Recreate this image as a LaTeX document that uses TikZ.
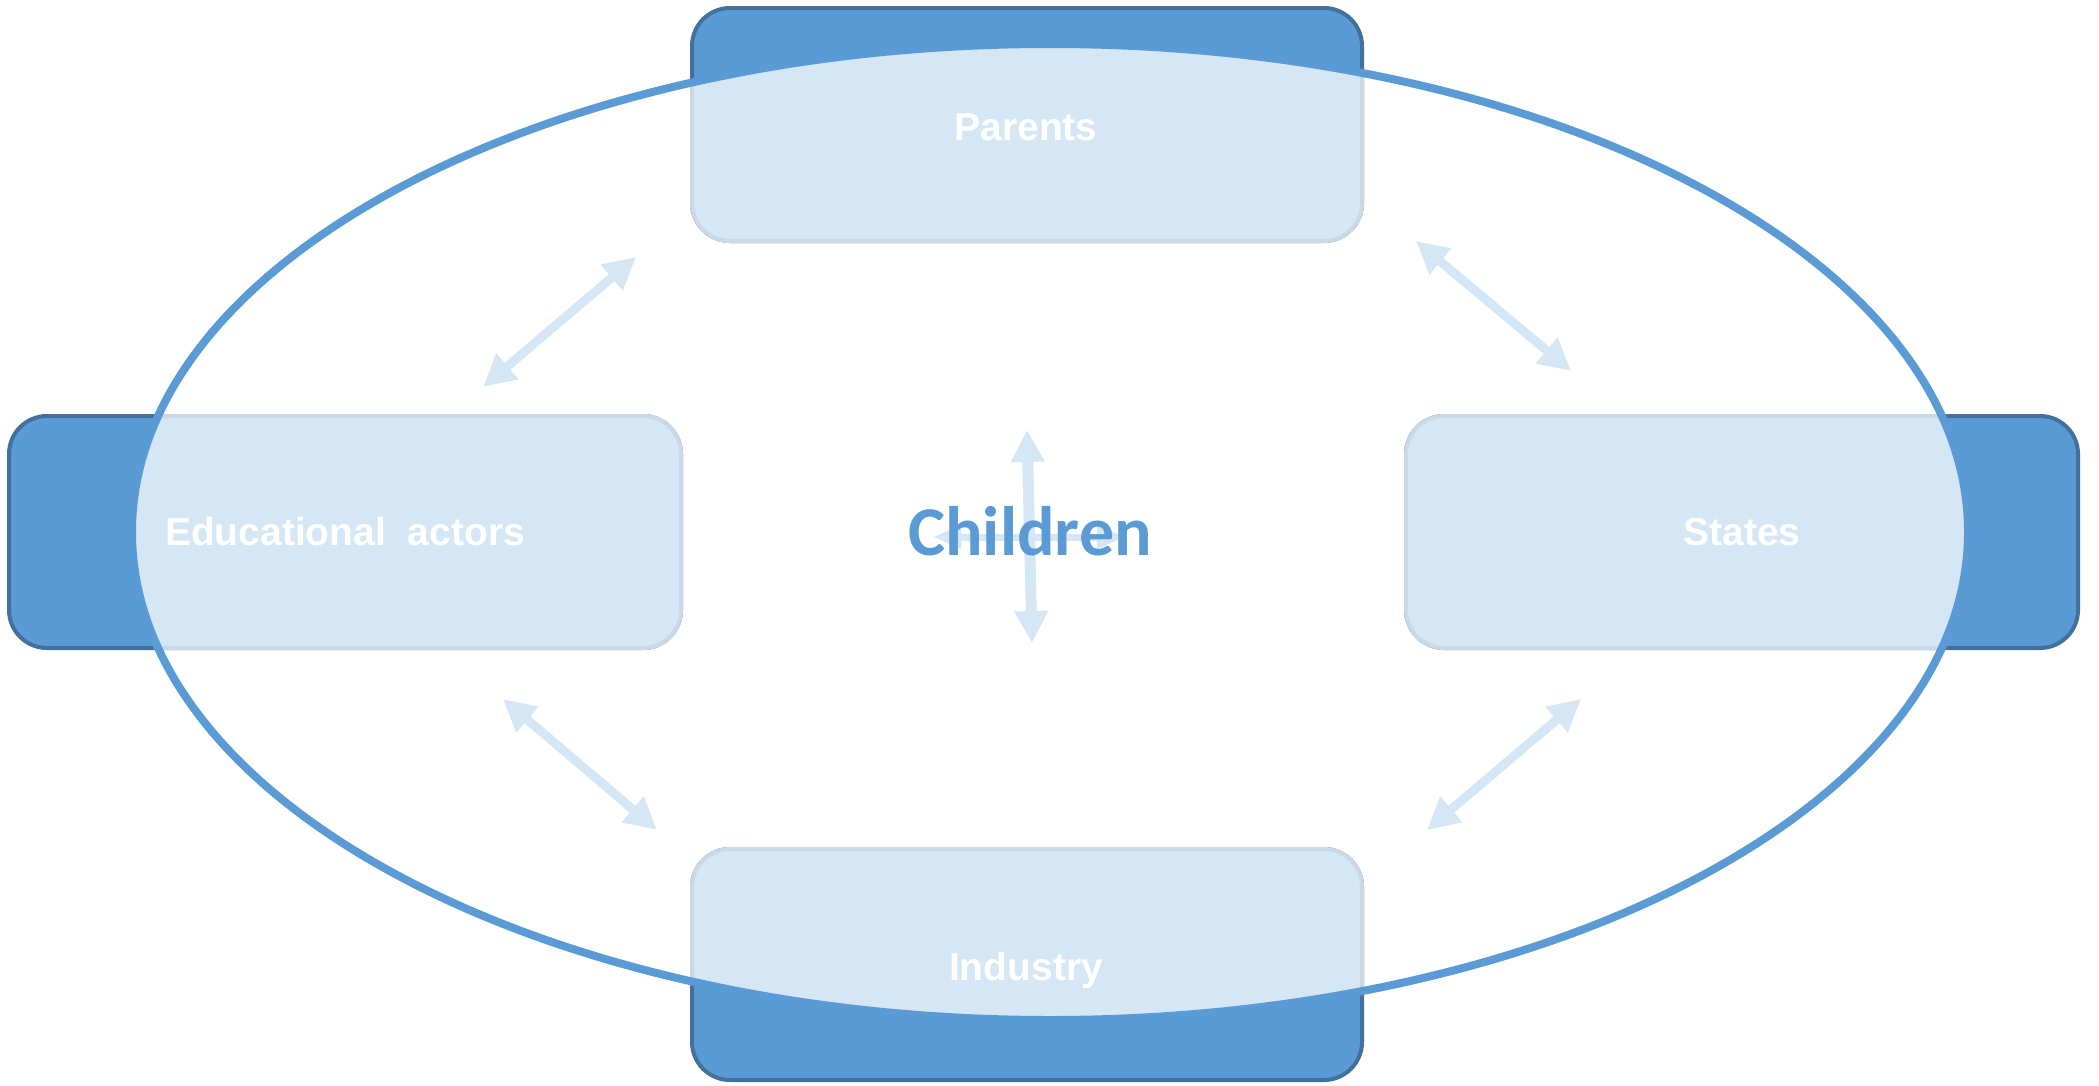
\documentclass[tikz,border=0pt]{standalone}
\usepackage{fontspec}
\setmainfont{Liberation Sans}
\newfontfamily\childfont{Carlito}
\usetikzlibrary{arrows.meta}
\definecolor{darkfill}{HTML}{5B9BD5}
\definecolor{darkline}{HTML}{41719C}
\definecolor{lightfill}{HTML}{D5E6F4}
\definecolor{lightline}{HTML}{CBD9E6}
\definecolor{arrowcol}{HTML}{D5E6F4}
\tikzset{
  darkbox/.style={draw=darkline, fill=darkfill, line width=4pt, rounded corners=38pt, outer sep=0pt, inner sep=0pt},
  lightbox/.style={draw=lightline, fill=lightfill, line width=4pt, rounded corners=38pt, outer sep=0pt, inner sep=0pt},
  boxtext/.style={font=\fontsize{39}{45}\selectfont\bfseries, text=white, anchor=base, inner sep=0pt},
  childtext/.style={font=\childfont\bfseries\fontsize{70}{80}\selectfont, text=darkfill, anchor=base, inner sep=0pt},
  dblarrow/.style={draw=arrowcol, line width=9pt, arrows={Triangle[length=32pt,width=32pt]-Triangle[length=32pt,width=32pt]}},
  vertarrow/.style={draw=arrowcol, line width=11pt, arrows={Triangle[length=32pt,width=32pt]-Triangle[length=32pt,width=32pt]}},
  horarrow/.style={draw=arrowcol, line width=7pt, arrows={Triangle[length=28pt,width=22pt]-Triangle[length=28pt,width=22pt]}},
  ring/.style={draw=darkfill, line width=8pt}
}
\begin{document}
\begin{tikzpicture}[x=1pt,y=-1pt]
\useasboundingbox (0,0) rectangle (2099,1085);
% boxes (dark part, outside the ellipse)
\node[darkbox, minimum width=670pt, minimum height=233pt] (parents) at (1027,124.5) {};
\node[darkbox, minimum width=672pt, minimum height=232pt] (edu) at (345,532) {};
\node[darkbox, minimum width=672pt, minimum height=232pt] (states) at (1742,532) {};
\node[darkbox, minimum width=670pt, minimum height=231pt] (industry) at (1027,964.5) {};
% light part inside the ellipse
\begin{scope}
  \clip (1050,532) ellipse [x radius=918pt, y radius=488pt];
  \node[lightbox, minimum width=670pt, minimum height=233pt] (parentsL) at (parents.center) {};
  \node[lightbox, minimum width=672pt, minimum height=232pt] (eduL) at (edu.center) {};
  \node[lightbox, minimum width=672pt, minimum height=232pt] (statesL) at (states.center) {};
  \node[lightbox, minimum width=670pt, minimum height=231pt] (industryL) at (industry.center) {};
\end{scope}
% arrows
\coordinate (ula) at (483,387); \coordinate (ulb) at (636,257);
\coordinate (ura) at (1416,241); \coordinate (urb) at (1571,371);
\coordinate (lla) at (503,699); \coordinate (llb) at (657,830);
\coordinate (lra) at (1427,830); \coordinate (lrb) at (1581,699);
\coordinate (cvt) at (1027,430); \coordinate (cvb) at (1032,643);
\coordinate (chl) at (933,537); \coordinate (chr) at (1125,537);
\draw[dblarrow] (ula) -- (ulb);
\draw[dblarrow] (ura) -- (urb);
\draw[dblarrow] (lla) -- (llb);
\draw[dblarrow] (lra) -- (lrb);
\draw[vertarrow] (cvt) -- (cvb);
\draw[horarrow] (chl) -- (chr);
% ellipse outline
\draw[ring] (1050,532) ellipse [x radius=918pt, y radius=488pt];
% texts
\node[boxtext] (tparents) at (1026,140) {Parents};
\node[boxtext] (tedu) at (345,545) {Educational\ \ actors};
\node[boxtext] (tstates) at (1742,545) {States};
\node[boxtext] (tindustry) at (1026,980) {Industry};
\node[childtext] (children) at (1030,555) {Children};
\end{tikzpicture}
\end{document}
